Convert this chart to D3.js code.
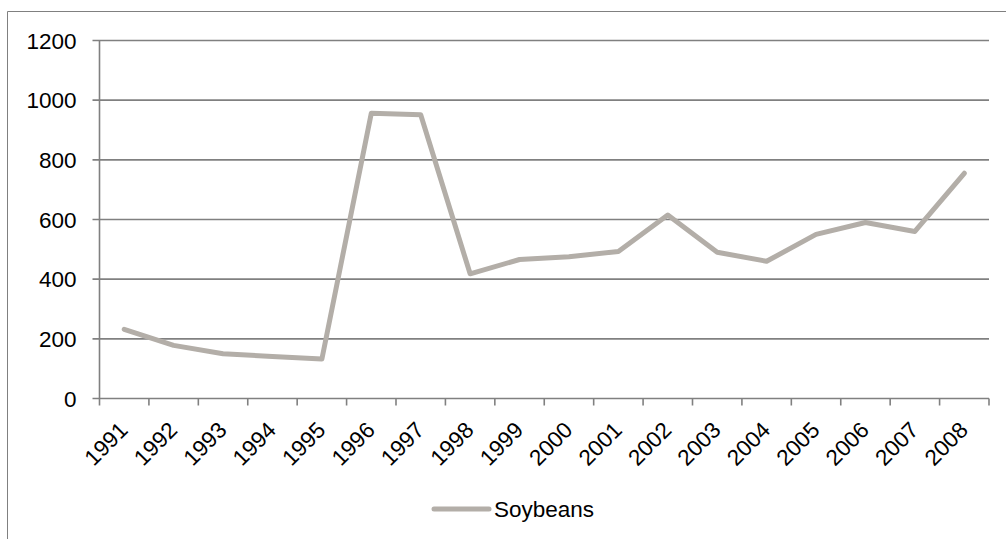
<!DOCTYPE html>
<html>
<head>
<meta charset="utf-8">
<script src="https://d3js.org/d3.v7.min.js"></script>
<style>
    body { margin: 0; background: #fff; }
    text { font-family: "Liberation Sans", Arial, sans-serif; fill: #000; }
</style>
</head>
<body>
<div id="chart"></div>
<script>
// data
var years = ["1991", "1992", "1993", "1994", "1995", "1996", "1997", "1998", "1999",
             "2000", "2001", "2002", "2003", "2004", "2005", "2006", "2007", "2008"];
var soybeans = [232, 178, 150, 141, 132, 956, 951, 418, 466,
                 475, 493, 615, 490, 460, 550, 590, 560, 755];
var yTicks = [0, 200, 400, 600, 800, 1000, 1200];
var seriesName = "Soybeans";

var lineColor = "#b3aea8",
    gridColor = "#808080",
    fontSize = "22.5px";

var vis = {};
vis.margin = { top: 40.5, left: 99.5 };
vis.width = 889.5;
vis.height = 358;

vis.svg = d3.select("#chart").append("svg")
    .attr("width", 1006)
    .attr("height", 539);

// outer chart frame (only top and left edges are visible)
vis.svg.append("path")
    .attr("d", "M7.5,539V11.5H1006")
    .attr("fill", "none")
    .attr("stroke", gridColor)
    .attr("stroke-width", 1);

vis.g = vis.svg.append("g")
    .attr("transform", "translate(" + vis.margin.left + "," + vis.margin.top + ")");

// scales
vis.x = d3.scaleBand()
    .domain(years)
    .range([0, vis.width]);

vis.y = d3.scaleLinear()
    .domain([0, 1200])
    .range([vis.height, 0]);

// gridlines + y ticks
vis.g.selectAll("line.grid")
    .data(yTicks)
    .enter().append("line")
    .attr("class", "grid")
    .attr("x1", -7)
    .attr("x2", vis.width)
    .attr("y1", function(d){ return vis.y(d); })
    .attr("y2", function(d){ return vis.y(d); })
    .attr("stroke", gridColor)
    .attr("stroke-width", 1.6);

vis.g.selectAll("text.ylab")
    .data(yTicks)
    .enter().append("text")
    .attr("class", "ylab")
    .attr("x", -23)
    .attr("y", function(d){ return vis.y(d); })
    .attr("dy", "0.36em")
    .attr("text-anchor", "end")
    .style("font-size", fontSize)
    .text(function(d){ return d; });

// y axis line
vis.g.append("line")
    .attr("x1", 0).attr("x2", 0)
    .attr("y1", 0).attr("y2", vis.height)
    .attr("stroke", gridColor)
    .attr("stroke-width", 1.6);

// x ticks sit between categories
var xTicks = years.map(function(d){ return vis.x(d); }).concat([vis.width]);
vis.g.selectAll("line.xtick")
    .data(xTicks)
    .enter().append("line")
    .attr("class", "xtick")
    .attr("x1", function(d){ return d; })
    .attr("x2", function(d){ return d; })
    .attr("y1", vis.height)
    .attr("y2", vis.height + 7)
    .attr("stroke", gridColor)
    .attr("stroke-width", 1.6);

vis.g.selectAll("text.xlab")
    .data(years)
    .enter().append("text")
    .attr("class", "xlab")
    .attr("transform", function(d){
        var cx = vis.x(d) + vis.x.bandwidth() / 2 + 5;
        return "translate(" + cx + "," + (vis.height + 33) + ") rotate(-45)";
    })
    .attr("text-anchor", "end")
    .style("font-size", fontSize)
    .text(function(d){ return d; });

// the series line
vis.line = d3.line()
    .x(function(d, i){ return vis.x(years[i]) + vis.x.bandwidth() / 2; })
    .y(function(d){ return vis.y(d); });

vis.g.append("path")
    .datum(soybeans)
    .attr("d", vis.line)
    .attr("fill", "none")
    .attr("stroke", lineColor)
    .attr("stroke-width", 5)
    .attr("stroke-linecap", "round")
    .attr("stroke-linejoin", "round");

// legend
vis.legend = vis.svg.append("g")
    .attr("transform", "translate(434,509)");

vis.legend.append("line")
    .attr("x1", 0).attr("x2", 55)
    .attr("y1", 0).attr("y2", 0)
    .attr("stroke", lineColor)
    .attr("stroke-width", 5)
    .attr("stroke-linecap", "round");

vis.legend.append("text")
    .attr("x", 60)
    .attr("y", 0)
    .attr("dy", "0.36em")
    .style("font-size", fontSize)
    .text(seriesName);
</script>
</body>
</html>
